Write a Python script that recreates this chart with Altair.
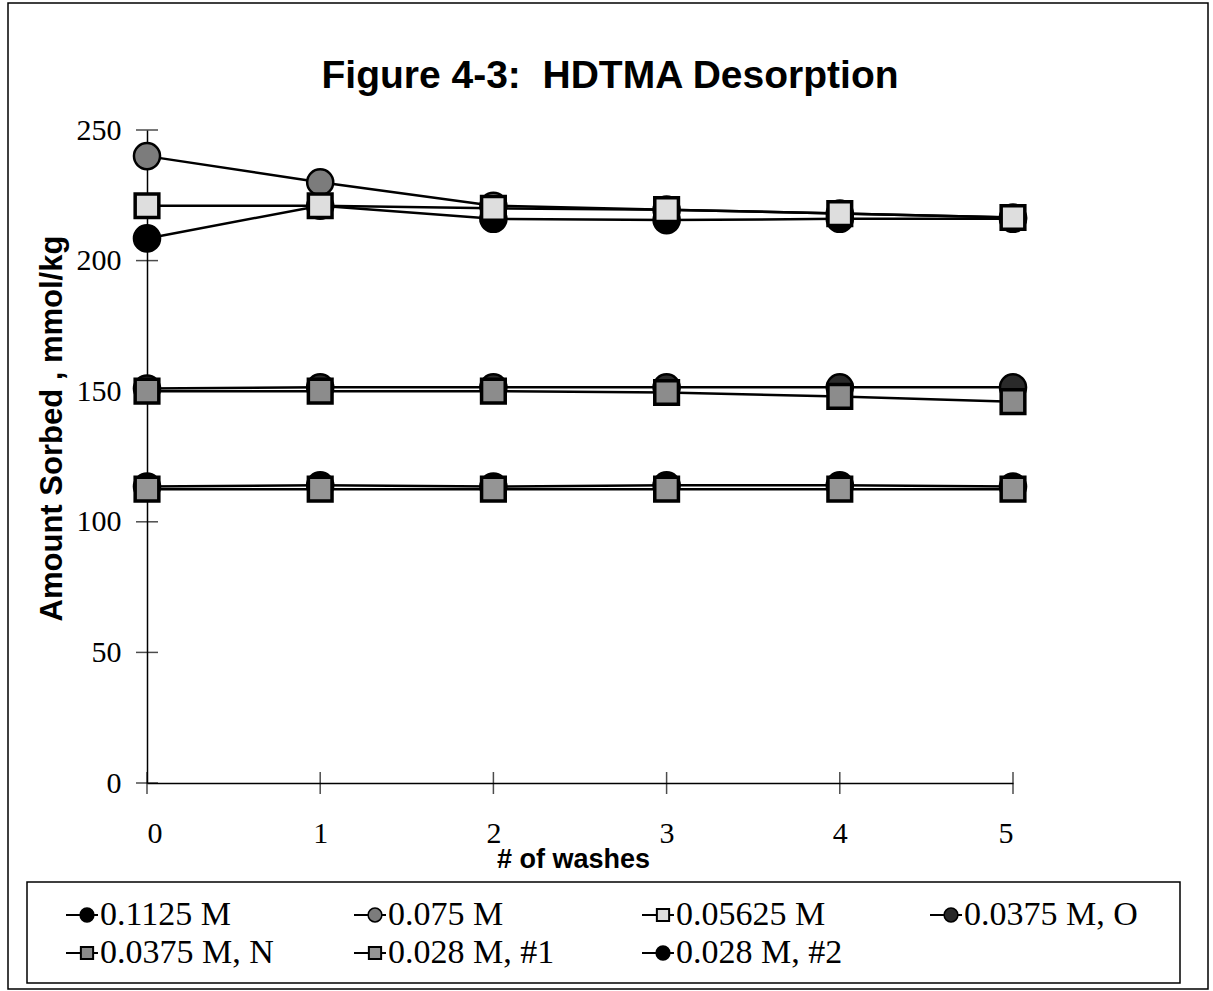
import altair as alt
import pandas as pd

# ---------------- data ----------------
washes = [0, 1, 2, 3, 4, 5]
series_names = ["0.1125 M", "0.075 M", "0.05625 M", "0.0375 M, O",
                "0.0375 M, N", "0.028 M, #1", "0.028 M, #2"]
v_01125 = [208.5, 221, 216, 215.5, 216, 216]
v_0075 = [240, 230, 221, 219.5, 218, 216.5]
v_005625 = [221, 221, 220, 219.5, 218, 216.5]
v_00375_O = [151, 151.5, 151.5, 151.5, 151.5, 151.5]
v_00375_N = [150, 150, 150, 149.5, 148, 146]
v_0028_1 = [112.5, 112.5, 112.5, 112.5, 112.5, 112.5]
v_0028_2 = [113.5, 114, 113.5, 114, 114, 113.5]
all_values = [v_01125, v_0075, v_005625, v_00375_O, v_00375_N, v_0028_1, v_0028_2]

y_tick_values = [0, 50, 100, 150, 200, 250]
x_tick_values = [0, 1, 2, 3, 4, 5]
title_text = "Figure 4-3:\u00a0 HDTMA Desorption"

# ---------------- styles ----------------
fills = ["#000000", "#7c7c7c", "#dedede", "#2a2a2a", "#8c8c8c", "#959595", "#000000"]
marker_kind = ["circle", "circle", "square", "circle", "square", "square", "circle"]

rows = []
for i, (name, vals) in enumerate(zip(series_names, all_values)):
    for x, v in zip(washes, vals):
        rows.append({"series": name, "idx": i, "kind": marker_kind[i], "washes": x, "amount": v})
df = pd.DataFrame(rows)

legend_df = pd.DataFrame({
    "series": series_names,
    "idx": list(range(len(series_names))),
    "kind": marker_kind,
})

W, H = 866, 653
PL, PT = 147, 130

x_enc = alt.X("washes:Q", scale=alt.Scale(domain=[0, 5], nice=False, zero=False),
              axis=alt.Axis(values=x_tick_values, format="d", ticks=False, grid=False,
                            labelFont="Liberation Serif", labelFontSize=30,
                            labelColor="black", labelPadding=35,
                            domainColor="black", domainWidth=1.5,
                            title="# of washes", titleFont="Liberation Sans",
                            titleFontWeight="bold", titleFontSize=27, titleColor="black",
                            titleX=426, titleY=76, titleBaseline="middle"))
y_enc = alt.Y("amount:Q", scale=alt.Scale(domain=[0, 250], nice=False, zero=True),
              axis=alt.Axis(values=y_tick_values, ticks=False, grid=False,
                            labelFont="Liberation Serif", labelFontSize=30,
                            labelColor="black", labelPadding=26,
                            domainColor="black", domainWidth=1.5,
                            title="Amount Sorbed , mmol/kg", titleFont="Liberation Sans",
                            titleFontWeight="bold", titleFontSize=31, titleColor="black",
                            titleX=-95, titleY=298, titleBaseline="middle", titleAngle=-90))

base = alt.Chart(df)
fill_scale = alt.Scale(domain=series_names, range=fills)

lines = base.mark_line(color="black", strokeWidth=2.5).encode(
    x=x_enc, y=y_enc, detail="series:N")

circles = base.transform_filter(alt.datum.kind == "circle").mark_point(
    shape="circle", filled=True, stroke="black", strokeWidth=2.5, opacity=1, size=680).encode(
    x="washes:Q", y="amount:Q",
    fill=alt.Fill("series:N", scale=fill_scale, legend=None),
    order=alt.Order("idx:Q"))
squares = base.transform_filter(alt.datum.kind == "square").mark_point(
    shape="square", filled=True, stroke="black", strokeWidth=3.5, opacity=1, size=560).encode(
    x="washes:Q", y="amount:Q",
    fill=alt.Fill("series:N", scale=fill_scale, legend=None),
    order=alt.Order("idx:Q"))

# ---------------- manual legend (positions derived from entry index) ----------------
COL_W, ROW_H = 288, 38
LX0, LY0 = 100 - PL, 915 - PT
lbase = alt.Chart(legend_df).transform_calculate(
    lx=f"{LX0} + (datum.idx % 4) * {COL_W}",
    ly=f"{LY0} + floor(datum.idx / 4) * {ROW_H}",
).transform_calculate(
    sx1="datum.lx - 34", sx2="datum.lx - 2", mx="datum.lx - 13")

leg_y = alt.Y("ly:Q", scale=None, axis=None)
leg_stub = lbase.mark_rule(color="black", strokeWidth=2).encode(
    x=alt.X("sx1:Q", scale=None, axis=None), x2="sx2:Q", y=leg_y)
leg_circ = lbase.transform_filter(alt.datum.kind == "circle").mark_point(
    shape="circle", filled=True, stroke="black", strokeWidth=1.5, opacity=1, size=190).encode(
    x=alt.X("mx:Q", scale=None, axis=None), y=leg_y,
    fill=alt.Fill("series:N", scale=fill_scale, legend=None))
leg_sq = lbase.transform_filter(alt.datum.kind == "square").mark_point(
    shape="square", filled=True, stroke="black", strokeWidth=2, opacity=1, size=150).encode(
    x=alt.X("mx:Q", scale=None, axis=None), y=leg_y,
    fill=alt.Fill("series:N", scale=fill_scale, legend=None))
leg_text = lbase.mark_text(align="left", baseline="middle", font="Liberation Serif",
                           fontSize=34, color="black").encode(
    x=alt.X("lx:Q", scale=None, axis=None), y=leg_y, text="series:N")

ytick_df = pd.DataFrame({"v": y_tick_values})
xtick_df = pd.DataFrame({"v": x_tick_values})
yticks = alt.Chart(ytick_df).mark_tick(orient="horizontal", size=22, thickness=1.5, color="black").encode(
    y="v:Q", x=alt.datum(0))
xticks = alt.Chart(xtick_df).mark_tick(orient="vertical", size=22, thickness=1.5, color="black").encode(
    x="v:Q", y=alt.datum(0))

one = alt.Data(values=[{"t": title_text}])
title_mark = alt.Chart(one).mark_text(font="Liberation Sans", fontWeight="bold", fontSize=39,
                                      color="black", align="center", baseline="middle").encode(
    text="t:N", x=alt.value(610 - PL), y=alt.value(76 - PT))
legend_box = alt.Chart(one).mark_rect(fill="transparent", stroke="black", strokeWidth=1.5).encode(
    x=alt.value(27 - PL), x2=alt.value(1180 - PL), y=alt.value(882 - PT), y2=alt.value(983 - PT))
outer_box = alt.Chart(one).mark_rect(fill="transparent", stroke="black", strokeWidth=1.5).encode(
    x=alt.value(8 - PL), x2=alt.value(1208 - PL), y=alt.value(3 - PT), y2=alt.value(989 - PT))

chart = alt.layer(outer_box, legend_box, title_mark, lines, yticks, xticks,
                  circles, squares, leg_stub, leg_circ, leg_sq, leg_text).properties(
    width=W, height=H,
    autosize=alt.AutoSizeParams(type="none"),
    padding={"left": PL, "top": PT, "right": 1213 - PL - W, "bottom": 991 - PT - H},
    background="white",
).configure_view(strokeWidth=0)

chart.save("out.html", embed_options={"renderer": "svg", "actions": False})
